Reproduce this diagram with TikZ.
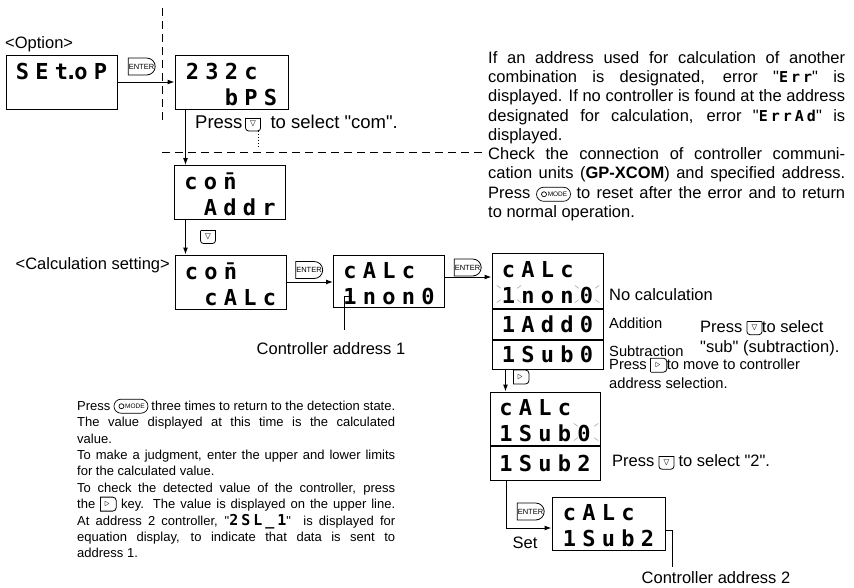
\documentclass[tikz,border=0pt]{standalone}
\usepackage{fontspec}
\usepackage{amssymb}
\usepackage{pict2e}
\usetikzlibrary{arrows.meta, positioning, calc, shapes.misc}
\setmainfont{Liberation Sans}[Ligatures=TeXOff]
\newfontfamily\segfont{DejaVu Sans Mono}[Ligatures=TeXOff]
\newfontfamily\segspaced{DejaVu Sans Mono}[LetterSpace=20, Ligatures=TeXOff]

% display characters: one fixed cell per character, a dot takes no cell
\newlength\segw
\setlength\segw{19.5pt}
\def\segend{\relax}
\def\segdot{.}
\def\segcells#1{\segcellsi#1\relax}
\def\segcellsi#1{\def\segtmp{#1}%
  \ifx\segtmp\segend\else
    \ifx\segtmp\segdot\makebox[0pt][c]{.}\else\makebox[\segw]{#1}\fi
    \expandafter\segcellsi
  \fi}
\newcommand\segtxt[1]{{\segspaced\bfseries\fontsize{15}{15}\selectfont #1}}
\newcommand\lcd[2]{\makebox[97.5pt][l]{\rule[-2.5pt]{0pt}{25pt}\segcells{#1}}\\\makebox[97.5pt][r]{\rule[-2.5pt]{0pt}{25pt}\segcells{#2}}}
\newcommand\lcdline[1]{\makebox[97.5pt][r]{\rule[-4.5pt]{0pt}{25pt}\segcells{#1}}}
\newcommand\jl[2][357pt]{\makebox[#1][s]{#2}}
\newcommand\tightlines{\lineskiplimit=-20pt\relax}

% panel keys
\newcommand\downbtn{\raisebox{-2.5pt}{\setlength\unitlength{1pt}\linethickness{0.8pt}%
  \begin{picture}(15,13)%
    \put(0,13){\line(1,0){15}}%
    \put(7.5,13){\oval[3](15,26)[b]}%
    \put(7.5,6.8){\makebox(0,0){\fontsize{10}{10}\selectfont$\triangledown$}}%
  \end{picture}}}
\newcommand\rightbtn{\raisebox{-2.5pt}{\setlength\unitlength{1pt}\linethickness{0.8pt}%
  \begin{picture}(16,14)%
    \put(0,0){\line(0,1){14}}%
    \put(0,7){\oval[3.5](32,14)[r]}%
    \put(7,7){\makebox(0,0){\fontsize{10}{10}\selectfont$\triangleright$}}%
  \end{picture}}}
\newcommand\modebtn{\raisebox{-3pt}{\setlength\unitlength{1pt}\linethickness{0.7pt}%
  \begin{picture}(34,14)%
    \put(17,7){\oval(34,14)}%
    \put(7.5,7){\circle{5}}%
    \put(21,7){\makebox(0,0){\fontsize{6.5}{6.5}\selectfont MODE}}%
  \end{picture}}}

\tikzset{
    lcdBox/.style={
        draw,
        line width=1pt,
        minimum width=111pt,
        minimum height=54pt,
        inner sep=0pt,
        align=left,
        font=\segfont\bfseries\fontsize{22}{26}\selectfont
    },
    lcdRow/.style={
        lcdBox,
        minimum height=30pt
    },
    enterKey/.style={
        draw,
        rounded rectangle,
        rounded rectangle left arc=none,
        line width=0.8pt,
        minimum width=29pt,
        minimum height=17pt,
        inner sep=1pt,
        font=\fontsize{7.5}{7.5}\selectfont
    },
    stepLine/.style={
        ->,
        line width=1pt
    },
    guideLine/.style={
        line width=0.8pt,
        dash pattern=on 8pt off 5pt
    },
    leadLine/.style={
        line width=0.8pt
    },
    blinkTick/.style={
        gray!60,
        line width=0.7pt
    },
    noteText/.style={
        inner sep=0pt,
        font=\fontsize{16.5}{19.3}\selectfont
    },
    smallText/.style={
        inner sep=0pt,
        font=\fontsize{14.7}{18.5}\selectfont
    },
    paraText/.style={
        inner sep=0pt,
        align=left,
        anchor=north west
    }
}

\begin{document}
\begin{tikzpicture}[x=1pt, y=-1pt, >={Latex[length=7pt, width=5pt]}]
    \useasboundingbox (0,0) rectangle (854,587);

    % Option menu
    \node[noteText, anchor=west] (optlbl) at (5,44) {<Option>};
    \node[lcdBox] (setop) at (61.5,82) {\lcd{SEt.oP}{}};
    \node[enterKey] (ent1) at (141.5,66.5) {ENTER};
    \node[lcdBox, minimum width=113pt] (bps) at (231.5,82) {\lcd{232c}{bPS}};
    \draw[stepLine] (setop) -- (bps);

    % Guide lines
    \coordinate (vtop) at (162,8);
    \coordinate (vbot) at (162,122);
    \coordinate (hleft) at (162,152);
    \coordinate (hright) at (486,152);
    \draw[guideLine] (vtop) -- (vbot);
    \draw[guideLine] (hleft) -- (hright);

    \node[noteText, anchor=west, font=\fontsize{18.5}{21}\selectfont] (presscom) at (195,123) {Press\,\downbtn\hspace{10pt}to select "com".};
    \coordinate (dotTop) at (258,131);
    \coordinate (dotBot) at (258,149);
    \draw[dotted, line width=1pt] (dotTop) -- (dotBot);

    % com menu
    \node[lcdBox] (addr) at (230,192.5) {\lcd{co{\={n}}}{Addr}};
    \draw[stepLine] ([xshift=11pt]bps.south west) -- ([xshift=11pt]bps.south west |- addr.north);
    \node[inner sep=0pt] (kdown1) at (208,237) {\downbtn};

    \node[noteText, anchor=east] (calclbl) at (170,265) {<Calculation setting>};
    \node[lcdBox] (comcalc) at (230.5,282) {\lcd{co{\={n}}}{cALc}};
    \draw[stepLine] ([xshift=11pt]bps.south west |- addr.south) -- ([xshift=11pt]bps.south west |- comcalc.north);

    \node[enterKey] (ent2) at (309,270) {ENTER};
    \node[lcdBox, minimum height=52pt] (calc1) at (389,281) {\lcd{cALc}{1non0}};
    \draw[stepLine] (comcalc.east) -- (comcalc.east -| calc1.west);

    \coordinate (lead1a) at (352,296);
    \coordinate (lead1b) at (344,330);
    \draw[leadLine] (lead1a) -| (lead1b);
    \node[noteText] (addr1lbl) at (331,349) {Controller address 1};

    % Calculation selection
    \node[enterKey] (ent3) at (467.5,267.5) {ENTER};
    \node[lcdBox, minimum height=55pt] (calc2) at (547.5,280.5) {\lcd{cALc}{1non0}};
    \draw[stepLine] ([yshift=4pt]calc1.east) -- ([yshift=4pt]calc1.east -| calc2.west);
    \node[lcdRow, below=0pt of calc2] (rowadd) {\lcdline{1Add0}};
    \node[lcdRow, minimum height=29pt, below=0pt of rowadd] (rowsub) {\lcdline{1Sub0}};

    \node[noteText, anchor=west] (nocalc) at (609,295) {No calculation};
    \node[smallText, anchor=west] (addlbl) at (609,323) {Addition};
    \node[smallText, anchor=west] (sublbl) at (609,351) {Subtraction};
    \node[noteText, paraText, font=\fontsize{16.5}{20}\selectfont] (selsub) at (700,320) {Press \downbtn{}to select\\"sub" (subtraction).};
    \node[smallText, paraText] (movesel) at (609,358) {Press \rightbtn{}to move to controller\\address selection.};

    % Address selection
    \node[inner sep=0pt] (kright1) at (521,377) {\rightbtn};
    \node[lcdBox, minimum width=110pt, minimum height=53pt] (calc3) at (545,418.5) {\lcd{cALc}{1Sub0}};
    \draw[stepLine] ([xshift=14pt]rowsub.south west) -- ([xshift=14pt]rowsub.south west |- calc3.north);
    \node[lcdRow, minimum width=110pt, minimum height=34pt, below=0pt of calc3] (rowsub2) {\lcdline{1Sub2}};
    \node[noteText, anchor=west] (sel2) at (612,462) {Press \downbtn{} to select "2".};

    % Macro for blinking digit marks
    \def\blinkAt#1{
        \foreach \ang in {35,145,215,325} {
            \draw[blinkTick] (#1) ++(\ang:10) -- ++(\ang:5);
        }
    }
    \coordinate (blinkA) at (509,294);
    \coordinate (blinkB) at (587,294);
    \coordinate (blinkC) at (586,432);
    \blinkAt{blinkA}
    \blinkAt{blinkB}
    \blinkAt{blinkC}

    % Set
    \node[enterKey] (ent4) at (530.5,511.5) {ENTER};
    \node[noteText] (setlbl) at (525,543) {Set};
    \node[lcdBox, minimum width=113pt, minimum height=53pt] (calc4) at (608.5,523.5) {\lcd{cALc}{1Sub2}};
    \draw[stepLine] ([xshift=17pt]rowsub2.south west) |- ([yshift=-4.5pt]calc4.west);
    \coordinate (lead2b) at (672,567);
    \draw[leadLine] ([yshift=-6.5pt]calc4.east) -| (lead2b);
    \node[noteText] (addr2lbl) at (716,578) {Controller address 2};

    % Error note
    \node[paraText, font=\fontsize{16.5}{19.3}\selectfont] (errnote) at (488,51) {%
        \jl{If an address used for calculation of another}\\
        \jl{combination is designated, error "\segtxt{Err}" is}\\
        \jl{displayed. If no controller is found at the address}\\
        \jl{designated for calculation, error "\segtxt{ErrAd}" is}\\
        displayed.\\
        \jl{Check the connection of controller communi-}\\
        \jl{cation units (\textbf{GP-XCOM}) and specified address.}\\
        \jl{Press \modebtn{} to reset after the error and to return}\\
        to normal operation.};

    % Return note
    \node[paraText, font=\fontsize{13}{16.4}\selectfont\tightlines] (retnote) at (77,399) {%
        \jl[318pt]{Press \modebtn{} three times to return to the detection state.}\\
        \jl[318pt]{The value displayed at this time is the calculated}\\
        value.\\
        \jl[318pt]{To make a judgment, enter the upper and lower limits}\\
        for the calculated value.\\
        \jl[318pt]{To check the detected value of the controller, press}\\
        \jl[318pt]{the \rightbtn{} key. The value is displayed on the upper line.}\\
        \jl[318pt]{At address 2 controller, "\segtxt{2SL\_1}"\ \ is displayed for}\\
        \jl[318pt]{equation display, to indicate that data is sent to}\\
        address 1.};

\end{tikzpicture}
\end{document}
